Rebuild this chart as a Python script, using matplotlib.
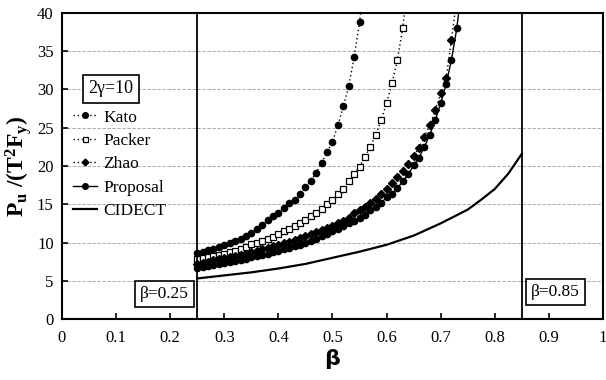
import matplotlib
matplotlib.use("Agg")
import matplotlib.pyplot as plt
import numpy as np

plt.rcParams["font.family"] = ["Liberation Serif", "DejaVu Serif"]
plt.rcParams["mathtext.fontset"] = "custom"
plt.rcParams["mathtext.rm"] = "Liberation Serif"
plt.rcParams["mathtext.bf"] = "Liberation Serif:bold"
plt.rcParams["mathtext.it"] = "Liberation Serif:italic"

# 各式の β 刻み(0.01)ごとの値。図から読み取り
beta_kato = np.arange(25, 57) / 100
kato = [8.6, 8.8, 9.0, 9.2, 9.45, 9.7, 9.95, 10.2, 10.5, 10.9,
        11.3, 11.8, 12.3, 12.9, 13.4, 13.9, 14.5, 15.1, 15.6, 16.3,
        17.2, 18.1, 19.1, 20.4, 21.8, 23.2, 25.3, 27.8, 30.4, 34.2,
        38.8, 45.0]

beta_packer = np.arange(25, 65) / 100
packer = [7.8, 7.95, 8.1, 8.25, 8.4, 8.55, 8.75, 8.95, 9.15, 9.45,
          9.75, 10.0, 10.25, 10.5, 10.75, 11.1, 11.45, 11.8, 12.2, 12.6,
          13.0, 13.4, 13.9, 14.4, 15.0, 15.6, 16.3, 17.0, 18.0, 18.9,
          19.9, 21.2, 22.5, 24.1, 26.0, 28.2, 30.8, 33.9, 38.1, 44.0]

beta_zhao = np.arange(25, 74) / 100
zhao = [7.2, 7.35, 7.5, 7.65, 7.8, 7.95, 8.1, 8.25, 8.4, 8.55,
        8.75, 8.9, 9.1, 9.3, 9.5, 9.7, 9.9, 10.1, 10.35, 10.6,
        10.85, 11.1, 11.35, 11.6, 11.9, 12.2, 12.6, 12.8, 13.2, 13.8,
        14.2, 14.7, 15.2, 15.7, 16.4, 17.0, 17.8, 18.5, 19.4, 20.3,
        21.3, 22.4, 23.8, 25.4, 27.3, 29.5, 31.5, 36.5, 42.0]

beta_prop = np.arange(25, 75) / 100
proposal = [6.7, 6.8, 6.95, 7.1, 7.2, 7.35, 7.5, 7.6, 7.75, 7.9,
            8.05, 8.2, 8.4, 8.55, 8.7, 8.9, 9.1, 9.3, 9.5, 9.7,
            9.95, 10.2, 10.5, 10.8, 11.1, 11.5, 11.8, 12.1, 12.5, 12.8,
            13.2, 13.6, 14.2, 14.7, 15.2, 15.9, 16.4, 17.1, 18.0, 18.9,
            20.1, 21.1, 22.5, 24.1, 26.0, 28.2, 30.7, 33.9, 38.1, 44.0]

beta_cidect = [0.25, 0.30, 0.35, 0.40, 0.45, 0.50, 0.55, 0.60, 0.65,
               0.70, 0.75, 0.775, 0.80, 0.825, 0.85]
cidect = [5.3, 5.7, 6.1, 6.6, 7.2, 8.0, 8.8, 9.7, 10.9,
          12.5, 14.3, 15.6, 17.0, 19.0, 21.6]

fig = plt.figure(figsize=(6.06, 3.80), dpi=100)
ax = fig.add_axes([0.1023, 0.1605, 0.8927, 0.8053])

ax.plot(beta_kato, kato, linestyle=(0, (1, 2)), color="black", lw=1.0,
        marker="o", ms=4.5, mfc="black", mec="black", label="Kato")
ax.plot(beta_packer, packer, linestyle=(0, (1, 2)), color="black", lw=1.0,
        marker="s", ms=4, mfc="white", mec="black", mew=0.9, label="Packer")
ax.plot(beta_zhao, zhao, linestyle=(0, (1, 2)), color="black", lw=1.0,
        marker="D", ms=3.8, mfc="black", mec="black", label="Zhao")
ax.plot(beta_prop, proposal, linestyle="-", color="black", lw=1.0,
        marker="o", ms=4.5, mfc="black", mec="black", label="Proposal")
ax.plot(beta_cidect, cidect, linestyle="-", color="black", lw=1.6, label="CIDECT")

# 適用範囲の境界
ax.axvline(0.25, color="black", lw=1.3)
ax.axvline(0.85, color="black", lw=1.3)

ax.set_xlim(0, 1)
ax.set_ylim(0, 40)
ax.set_xticks(np.arange(0, 1.01, 0.1))
ax.set_xticklabels(["0", "0.1", "0.2", "0.3", "0.4", "0.5", "0.6", "0.7", "0.8", "0.9", "1"])
ax.set_yticks(range(0, 41, 5))
ax.tick_params(direction="in", length=4, width=1.2, labelsize=12, pad=8)
ax.tick_params(axis="y", pad=6)
ax.yaxis.grid(True, linestyle=(0, (4, 2)), color="#9a9a9a", lw=0.6)
ax.set_axisbelow(True)
for sp in ax.spines.values():
    sp.set_linewidth(1.5)

ax.set_xlabel("β", fontsize=16, fontweight="bold", family="DejaVu Sans", labelpad=2)
ax.set_ylabel(r"$\mathbf{P_u\ /(T^2F_y)}$", fontsize=17, labelpad=2)

box = dict(boxstyle="square,pad=0.3", fc="white", ec="black", lw=1.2)
ax.text(0.19, 3.3, "β=0.25", fontsize=12.5, ha="center", va="center", bbox=box)
ax.text(0.912, 3.5, "β=0.85", fontsize=12.5, ha="center", va="center", bbox=box)
ax.text(0.091, 30.1, "2γ=10", fontsize=13, ha="center", va="center", bbox=box)

ax.legend(loc="upper left", bbox_to_anchor=(0.02, 0.685), frameon=False,
          fontsize=12.5, handlelength=1.4, handletextpad=0.35, labelspacing=0.42,
          borderpad=0, borderaxespad=0, markerscale=0.9)

fig.savefig("out.png", dpi=100)
